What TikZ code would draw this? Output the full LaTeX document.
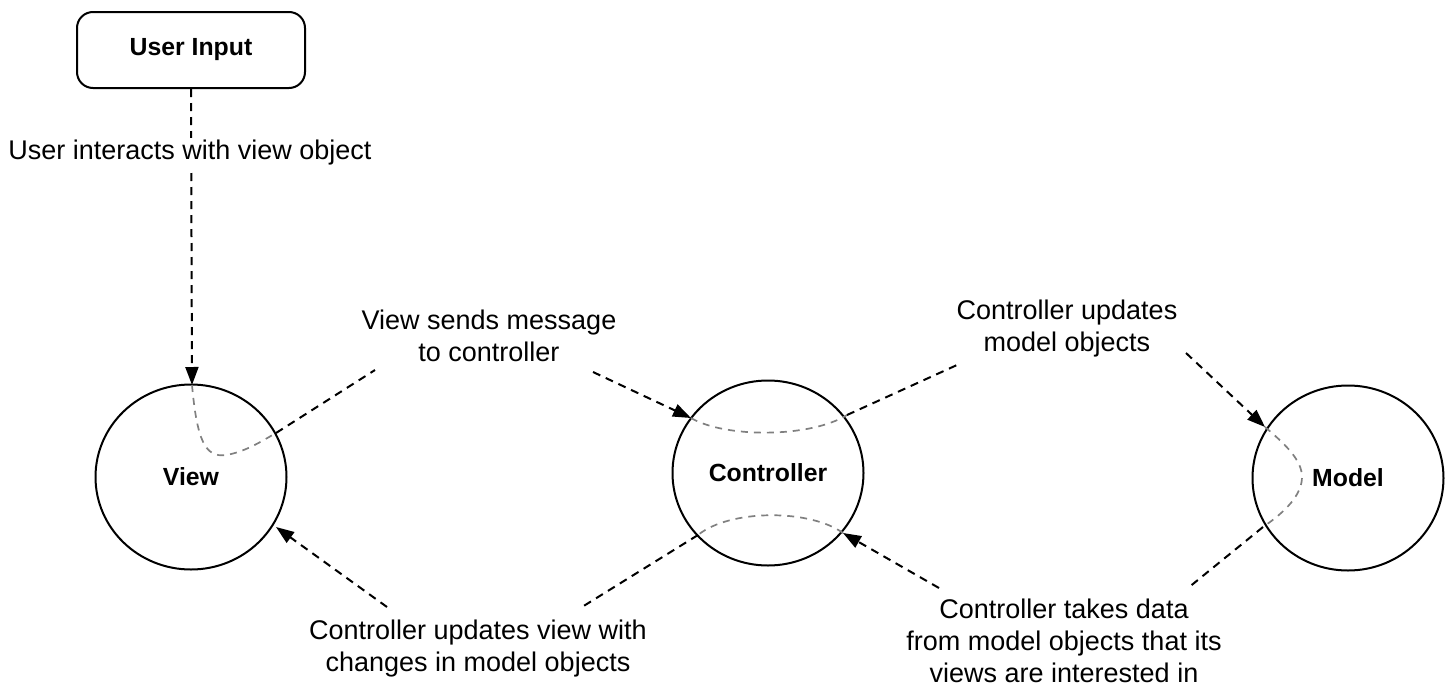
\documentclass[tikz,border=0pt]{standalone}
\usepackage{fontspec}
\setmainfont{Liberation Sans}
\usetikzlibrary{arrows.meta,shapes.geometric}
\begin{document}
\begin{tikzpicture}[x=0.5pt,y=-0.5pt,
  lbl/.style={align=center,font=\fontsize{13.5}{16}\selectfont,inner sep=0pt},
  ttl/.style={font=\fontsize{12.4}{15}\selectfont\bfseries},
  obj/.style={ellipse,draw,line width=1pt,minimum width=95.5pt,minimum height=92.5pt,inner sep=0pt,ttl},
  blk/.style={line width=1pt,dash pattern=on 4pt off 3pt},
  gry/.style={line width=0.85pt,draw=black!50,dash pattern=on 3.5pt off 3pt},
  arr/.style={blk,-{Triangle[length=9pt,width=6.5pt]}}
]
\useasboundingbox (0,0) rectangle (1447,686);
% nodes
\node[draw,line width=1pt,rounded corners=8pt,minimum width=114pt,minimum height=38pt,ttl] (user) at (191,50) {User Input};
\node[obj] (view) at (191,477) {View};
\node[obj] (ctrl) at (768,473) {Controller};
\node[obj] (model) at (1348,478) {Model};
% labels
\node[lbl] (l1) at (489,336) {View sends message\\to controller};
\node[lbl] (l2) at (1067,329) {Controller updates\\model objects};
\node[lbl] (l3) at (1064,641) {Controller takes data\\from model objects that its\\views are interested in};
\node[lbl] (l4) at (478,649) {Controller updates view with\\changes in model objects};
% coordinates
\coordinate (vtop) at (192,385);
\coordinate (vout) at (276,433);
\coordinate (l1a) at (375,370);
\coordinate (l1b) at (593,372);
\coordinate (cin1) at (691,418);
\coordinate (cout1) at (847,415);
\coordinate (l2a) at (957,365);
\coordinate (l2b) at (1186,353);
\coordinate (min) at (1265,427);
\coordinate (mout) at (1263,527);
\coordinate (l3a) at (1188,588);
\coordinate (l3b) at (939,588);
\coordinate (cin2) at (843,533);
\coordinate (cout2) at (698,535);
\coordinate (l4a) at (582,607);
\coordinate (l4b) at (387,607);
\coordinate (vin) at (276,527);
% user input to view
\draw[arr] (user.south) -- (vtop);
\node[lbl,fill=white,inner sep=1pt] (l0) at (190,153) {User interacts with view object};
% view -> controller
\draw[gry] (vtop) .. controls (197,440) and (205,458) .. (226,455) .. controls (245,452) and (262,441) .. (vout);
\draw[blk] (vout) -- (l1a);
\draw[arr] (l1b) -- (cin1);
% controller -> model
\draw[gry] (cin1) .. controls (725,438) and (810,438) .. (cout1);
\draw[blk] (cout1) -- (l2a);
\draw[arr] (l2b) -- (min);
% model -> controller
\draw[gry] (min) .. controls (1285,444) and (1302,460) .. (1302,477) .. controls (1302,495) and (1285,512) .. (mout);
\draw[blk] (mout) -- (l3a);
\draw[arr] (l3b) -- (cin2);
% controller -> view
\draw[gry] (cin2) .. controls (810,509) and (730,509) .. (cout2);
\draw[blk] (cout2) -- (l4a);
\draw[arr] (l4b) -- (vin);
\end{tikzpicture}
\end{document}
